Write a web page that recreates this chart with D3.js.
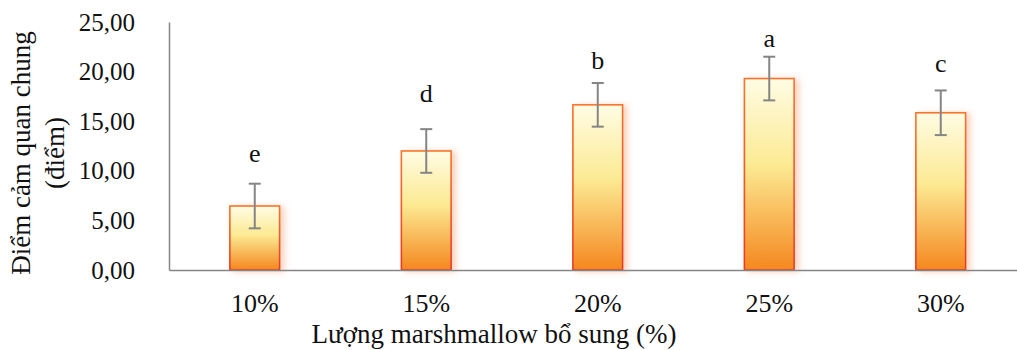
<!DOCTYPE html>
<html>
<head>
<meta charset="utf-8">
<script src="https://cdn.jsdelivr.net/npm/d3@7"></script>
<style>
  body { margin: 0; background: #fff; }
  svg text { font-family: "Times New Roman", "Liberation Serif", Times, "DejaVu Serif", serif; }
</style>
</head>
<body>
<svg id="chart"></svg>
<script>
// data
const categories = ["10%", "15%", "20%", "25%", "30%"];
const scores = [6.45, 12.0, 16.65, 19.3, 15.85];
const errors = [2.25, 2.2, 2.2, 2.2, 2.25];
const letters = ["e", "d", "b", "a", "c"];
const letterLevels = [10.9, 16.9, 20.3, 22.5, 20.0]; // baseline of each letter, in score units
const yTicks = [0, 5, 10, 15, 20, 25];

const width = 1017, height = 350;
const margin = { top: 22, left: 169, bottom: 80 };
const plotRight = 1026.5;

const svg = d3.select("#chart")
    .attr("width", width)
    .attr("height", height);

// gradient + glow for the bars
const defs = svg.append("defs");
const grad = defs.append("linearGradient")
    .attr("id", "barFill")
    .attr("x1", 0).attr("y1", 0).attr("x2", 0).attr("y2", 1);
grad.append("stop").attr("offset", "0%").attr("stop-color", "#fffce4");
grad.append("stop").attr("offset", "45%").attr("stop-color", "#fcea93");
grad.append("stop").attr("offset", "100%").attr("stop-color", "#f5871f");

const edge = defs.append("linearGradient")
    .attr("id", "barEdge")
    .attr("x1", 0).attr("y1", 0).attr("x2", 0).attr("y2", 1);
edge.append("stop").attr("offset", "0%").attr("stop-color", "#f7742c");
edge.append("stop").attr("offset", "100%").attr("stop-color", "#e63b26");

const glow = defs.append("filter")
    .attr("id", "glow")
    .attr("x", "-20%").attr("y", "-10%")
    .attr("width", "160%").attr("height", "130%");
glow.append("feDropShadow")
    .attr("dx", 4).attr("dy", 1)
    .attr("stdDeviation", 3)
    .attr("flood-color", "#f19a6a")
    .attr("flood-opacity", 0.45);

// scales
const x = d3.scaleBand()
    .domain(categories)
    .range([margin.left, plotRight])
    .paddingInner(0.71)
    .paddingOuter(0.355);

const y = d3.scaleLinear()
    .domain([0, 25])
    .range([height - margin.bottom, margin.top]);

const fmt = v => d3.format(".2f")(v).replace(".", ",");

// bars
const data = categories.map((c, i) => ({ cat: c, v: scores[i], e: errors[i], l: letters[i], ly: letterLevels[i] }));

svg.append("g")
    .selectAll("rect")
    .data(data)
    .join("rect")
    .attr("x", d => x(d.cat))
    .attr("y", d => y(d.v))
    .attr("width", x.bandwidth())
    .attr("height", d => y(0) - y(d.v))
    .attr("fill", "url(#barFill)")
    .attr("stroke", "url(#barEdge)")
    .attr("stroke-width", 1.6)
    .attr("filter", "url(#glow)");

// axes
const yAxis = svg.append("g")
    .attr("transform", `translate(${margin.left},0)`)
    .call(d3.axisLeft(y).tickValues(yTicks).tickFormat(fmt).tickSize(0).tickSizeOuter(0).tickPadding(34));

const xAxis = svg.append("g")
    .attr("transform", `translate(0,${y(0)})`)
    .call(d3.axisBottom(x).tickSize(0).tickSizeOuter(0).tickPadding(23.5));

[yAxis, xAxis].forEach(a => {
  a.attr("font-family", null);
  a.select(".domain").attr("stroke", "#868686").attr("stroke-width", 1.5);
  a.selectAll("text").attr("fill", "#111");
});
yAxis.selectAll("text").style("font-size", "25px");
xAxis.selectAll("text").style("font-size", "26px");

// error bars
const err = svg.append("g")
    .attr("stroke", "#858585")
    .attr("stroke-width", 2);

err.selectAll(".stem")
    .data(data)
    .join("line")
    .attr("class", "stem")
    .attr("x1", d => x(d.cat) + x.bandwidth() / 2)
    .attr("x2", d => x(d.cat) + x.bandwidth() / 2)
    .attr("y1", d => y(d.v - d.e))
    .attr("y2", d => y(d.v + d.e));

err.selectAll(".cap")
    .data(data.flatMap(d => [{ cat: d.cat, at: d.v - d.e }, { cat: d.cat, at: d.v + d.e }]))
    .join("line")
    .attr("class", "cap")
    .attr("x1", d => x(d.cat) + x.bandwidth() / 2 - 6)
    .attr("x2", d => x(d.cat) + x.bandwidth() / 2 + 6)
    .attr("y1", d => y(d.at))
    .attr("y2", d => y(d.at));

// significance letters
svg.append("g")
    .selectAll("text")
    .data(data)
    .join("text")
    .attr("x", d => x(d.cat) + x.bandwidth() / 2)
    .attr("y", d => y(d.ly))
    .attr("text-anchor", "middle")
    .attr("fill", "#111")
    .style("font-size", "26px")
    .text(d => d.l);

// axis titles
svg.append("text")
    .attr("x", 494)
    .attr("y", 343)
    .attr("text-anchor", "middle")
    .attr("fill", "#111")
    .style("font-size", "27px")
    .text("Lượng marshmallow bổ sung (%)");

const yTitle = svg.append("text")
    .attr("transform", "translate(0,153) rotate(-90)")
    .attr("text-anchor", "middle")
    .attr("fill", "#111")
    .style("font-size", "27px");
yTitle.append("tspan").attr("x", 0).attr("y", 30).text("Điểm cảm quan chung");
yTitle.append("tspan").attr("x", 0).attr("y", 64).text("(điểm)");
</script>
</body>
</html>
